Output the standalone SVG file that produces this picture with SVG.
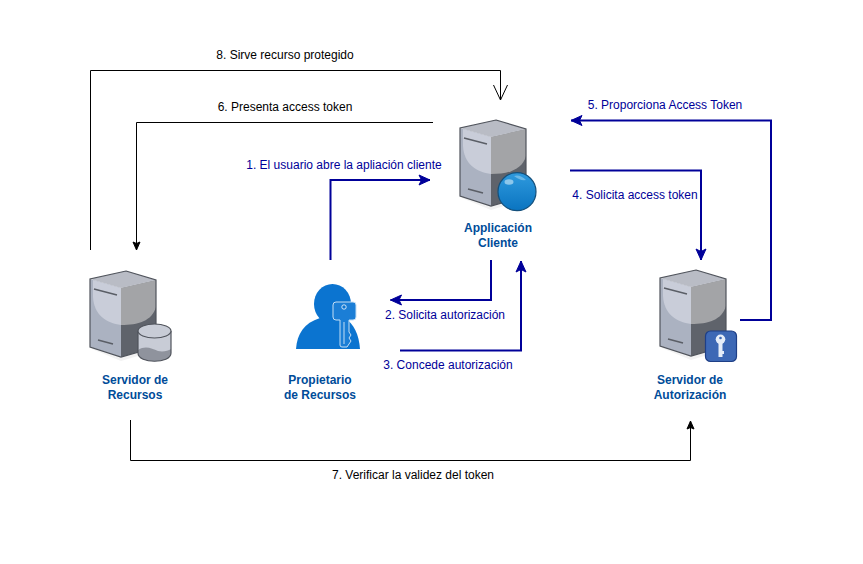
<svg xmlns="http://www.w3.org/2000/svg" xmlns:xlink="http://www.w3.org/1999/xlink" width="863" height="564" viewBox="0 0 863 564">
<style>
text{font-family:"Liberation Sans",Arial,sans-serif;font-size:12px;text-anchor:middle}
.k{fill:#000}
.b{fill:#000099}
.n{fill:#004C99;font-weight:bold}
.lk{fill:none;stroke:#000;stroke-width:1}
.lb{fill:none;stroke:#000099;stroke-width:2}
</style>
<defs>
<marker id="ak" markerUnits="userSpaceOnUse" markerWidth="12" markerHeight="12" refX="9" refY="5" orient="auto"><path d="M1,1.500 L9,5 L1,8.500 L2.500,5 Z" fill="#000" stroke="#000"/></marker>
<marker id="ab" markerUnits="userSpaceOnUse" markerWidth="16" markerHeight="14" refX="12" refY="6.500" orient="auto"><path d="M1,1.500 L12,6.500 L1,11.500 L3.500,6.500 Z" fill="#000099" stroke="#000099"/></marker>
<marker id="ao" markerUnits="userSpaceOnUse" markerWidth="20" markerHeight="20" refX="16" refY="9" orient="auto"><path d="M1,2 L16,9 L1,16" fill="none" stroke="#000"/></marker>
<linearGradient id="gl" x1="0" y1="0" x2="0" y2="1"><stop offset="0" stop-color="#2f9ade"/><stop offset="1" stop-color="#0a74c0"/></linearGradient>
<g id="srv">
<path d="M2,78 L31,90 L68,79 L68,70 L2,70 Z" fill="#e9e9e9" opacity=".6"/>
<path d="M0,8 L31,17 L31,86 L0,76 Z" fill="#abb2c1"/>
<path d="M3,9 L31,17 L31,54 C16,52 4,44 3,26 Z" fill="#c9cdd9"/>
<path d="M31,17 L66,9 L66,76 L31,86 Z" fill="#5f636b"/>
<path d="M31,17 L66,9 L66,36 C62,50 48,54 31,54 Z" fill="#a3a4a7"/>
<path d="M36,0 L66,9 L31,17 L0,8 Z" fill="#b9bcc5"/>
<path d="M36,0 L66,9 L66,76 L31,86 L0,76 L0,8 Z" fill="none" stroke="#50545c" stroke-width="1.200"/>
<path d="M4,18 L27,24 M8,69 L23,73" fill="none" stroke="#5a5e66" stroke-width="1.500"/>
</g>
</defs>
<rect width="863" height="564" fill="#fff"/>
<g id="connectors">
<path class="lk" d="M90.500,250 V70.500 H500.500 V100" marker-end="url(#ao)"/>
<path class="lk" d="M433,122.500 H136.500 V250" marker-end="url(#ak)"/>
<path class="lk" d="M130.500,420 V460.500 H690.500 V421" marker-end="url(#ak)"/>
<path class="lb" d="M330.500,260 V180 H430" marker-end="url(#ab)"/>
<path class="lb" d="M491,260 V300 H390.500" marker-end="url(#ab)"/>
<path class="lb" d="M400,350.500 H521 V261" marker-end="url(#ab)"/>
<path class="lb" d="M570,170.500 H701 V260" marker-end="url(#ab)"/>
<path class="lb" d="M740,320 H771 V120.500 H571" marker-end="url(#ab)"/>
</g>
<g id="cliente">
<use xlink:href="#srv" href="#srv" transform="translate(460,120)"/>
<circle cx="517" cy="191.700" r="19" fill="url(#gl)" stroke="#14507c" stroke-width="1.200"/>
<ellipse cx="509" cy="182" rx="4.500" ry="2.800" fill="#a8d5f0" opacity=".8"/>
<path d="M514,176 Q520,174 526,180 Q520,181 514,176 Z" fill="#7cc0ea" opacity=".8"/>
<text class="n" x="498" y="232">Applicación</text>
<text class="n" x="498" y="247">Cliente</text>
</g>
<g id="servidor-recursos">
<use xlink:href="#srv" href="#srv" transform="translate(90,271)"/>
<path d="M138,331 V353 C138,364 171,364 171,353 V331 Z" fill="#c8ccd6"/>
<path d="M138,350 C146,345 152,349 158,351 C163,352 168,351 171,349 V353 C171,364 138,364 138,353 Z" fill="#8f939d"/>
<path d="M138,331 V353 C138,364 171,364 171,353 V331" fill="none" stroke="#50545c" stroke-width="1.200"/>
<ellipse cx="154.500" cy="331" rx="16.500" ry="7" fill="#c8ccd6" stroke="#50545c" stroke-width="1.200"/>
<text class="n" x="135" y="384">Servidor de</text>
<text class="n" x="135" y="399">Recursos</text>
</g>
<g id="propietario">
<ellipse cx="332.500" cy="304" rx="18.500" ry="20" fill="#0b74d0"/>
<path d="M296,349 C297,334 304,323 320,318 L345,318 C354,324 359,335 360,349 Z" fill="#0b74d0"/>
<path d="M333,305 Q333,302 336,302 H353 Q356,302 356,305 V317 Q356,320 353,320 H349 V332 L351,335 L349,338 L351,341 L347,347 H342 Q340,347 340,345 V320 H336 Q333,320 333,317 Z" fill="#1b7ed6" stroke="#c4def4" stroke-width="1"/>
<circle cx="344" cy="307" r="2.200" fill="#0b74d0" stroke="#fff" stroke-width=".8"/>
<path d="M344,322 V344" stroke="#c4def4" fill="none"/>
<text class="n" x="320" y="384">Propietario</text>
<text class="n" x="320" y="399">de Recursos</text>
</g>
<g id="servidor-autorizacion">
<use xlink:href="#srv" href="#srv" transform="translate(660,270)"/>
<rect x="705.500" y="331" width="31" height="30.500" rx="5" fill="#3d68b5" stroke="#1e3f86" stroke-width="1.200"/>
<path d="M718.500,343 V357 H722.500 V354 H724 V351 H722.500 V343 Z" fill="#e6edf8"/>
<circle cx="720.500" cy="339.300" r="4.800" fill="#e6edf8"/>
<circle cx="720.500" cy="338" r="1.300" fill="#3d68b5"/>
<text class="n" x="690" y="384">Servidor de</text>
<text class="n" x="690" y="399">Autorización</text>
</g>
<g id="etiquetas">
<text class="k" x="285" y="59">8. Sirve recurso protegido</text>
<text class="k" x="285" y="111">6. Presenta access token</text>
<text class="b" x="344" y="169">1. El usuario abre la apliación cliente</text>
<text class="b" x="445" y="319">2. Solicita autorización</text>
<text class="b" x="448" y="369">3. Concede autorización</text>
<text class="b" x="635" y="199">4. Solicita access token</text>
<text class="b" x="665" y="109">5. Proporciona Access Token</text>
<text class="k" x="413" y="479">7. Verificar la validez del token</text>
</g>
</svg>
